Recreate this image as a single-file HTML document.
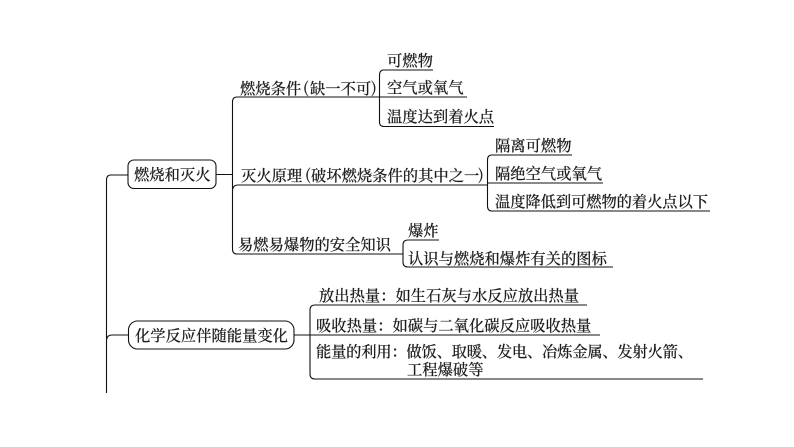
<!DOCTYPE html>
<html lang="zh-CN">
<head>
<meta charset="utf-8">
<style>
html,body{margin:0;padding:0;background:#fff;width:794px;height:447px;overflow:hidden}
svg{display:block}
text{font-family:"Noto Serif CJK SC","Liberation Serif",serif;font-size:15.3px;font-weight:500;fill:#1c1c1c;stroke:#1c1c1c;stroke-width:.15}
.l{fill:none;stroke:#111;stroke-width:1.1}
</style>
</head>
<body>
<svg width="794" height="447" viewBox="0 0 794 447" xmlns="http://www.w3.org/2000/svg">
<!-- main trunk -->
<path class="l" d="M128 175H111Q106.500 175 106.500 180V393"/>
<path class="l" d="M106.500 340Q107 335 112 335H128"/>
<rect class="l" x="128" y="160" width="88" height="28.500" rx="6"/>
<rect class="l" x="128.500" y="321" width="165.500" height="28" rx="9"/>
<path class="l" d="M216 174.500H233"/>
<!-- second level 1 -->
<path class="l" d="M380 97H237Q232.500 97 232.500 102V249Q232.500 254 237 254H402"/>
<path class="l" d="M232.500 190Q233 185 238 185H487"/>
<!-- group A -->
<path class="l" d="M433 70H384Q379.500 70 379.500 75V122Q379.500 126.500 384 126.500H494"/>
<path class="l" d="M379.500 97H467"/>
<!-- group B -->
<path class="l" d="M572 155H492Q487.500 155 487.500 160V206Q487.500 211 492 211H710"/>
<path class="l" d="M487.500 183H603"/>
<!-- group C -->
<path class="l" d="M439 240H408Q403 240 403 245V262Q403 267 408 267H613"/>
<path class="l" d="M402 254H403"/>
<!-- group D -->
<path class="l" d="M294 335H600"/>
<path class="l" d="M587 305H315Q310 305 310 310V374Q310 379 315 379H703"/>

<text x="134" y="180">燃烧和灭火</text>
<text x="135" y="341">化学反应伴随能量变化</text>

<text x="240" y="94">燃烧条件</text>
<text x="303" y="93">(</text>
<text x="310" y="94">缺一不可</text>
<text x="371" y="93">)</text>

<text x="241" y="181">灭火原理</text>
<text x="305" y="180">(</text>
<text x="311" y="181">破坏燃烧条件的其中之一</text>
<text x="478" y="180">)</text>

<text x="238" y="250">易燃易爆物的安全知识</text>

<text x="387" y="66">可燃物</text>
<text x="387" y="93">空气或氧气</text>
<text x="387" y="122">温度达到着火点</text>

<text x="495" y="151">隔离可燃物</text>
<text x="495" y="179">隔绝空气或氧气</text>
<text x="495" y="207" textLength="213">温度降低到可燃物的着火点以下</text>

<text x="408" y="236">爆炸</text>
<text x="408" y="264">认识与燃烧和爆炸有关的图标</text>

<text x="319" y="301">放出热量：如生石灰与水反应放出热量</text>
<text x="316" y="331">吸收热量：如碳与二氧化碳反应吸收热量</text>
<text x="316" y="357" textLength="377">能量的利用：做饭、取暖、发电、冶炼金属、发射火箭、</text>
<text x="407" y="375">工程爆破等</text>
</svg>
</body>
</html>
